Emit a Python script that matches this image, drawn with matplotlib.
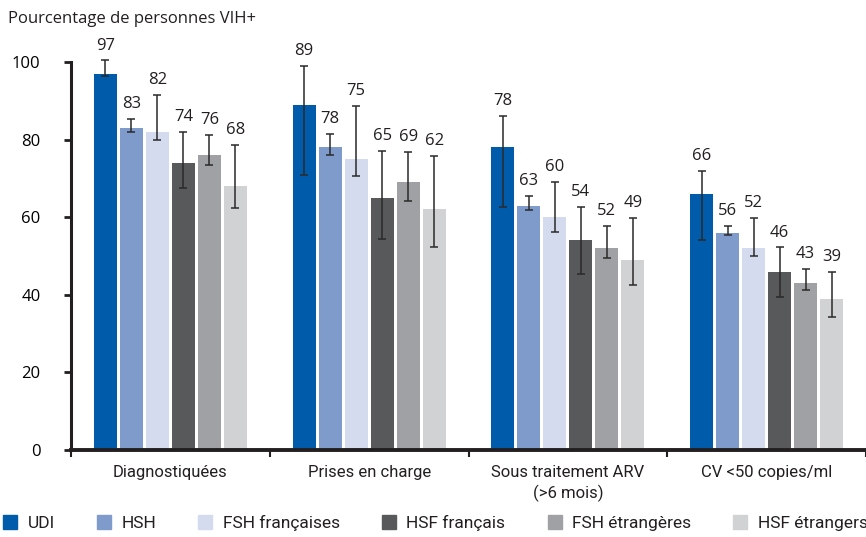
import matplotlib
matplotlib.use("Agg")
import matplotlib.pyplot as plt
from matplotlib.lines import Line2D
import numpy as np

# ── data ──────────────────────────────────────────────────────────────────────
categories = ["Diagnostiquées", "Prises en charge",
              "Sous traitement ARV\n(>6 mois)", "CV <50 copies/ml"]
groups = ["UDI", "HSH", "FSH françaises", "HSF français",
          "FSH étrangères", "HSF étrangers"]

values = [
    [97, 89, 78, 66],   # UDI
    [83, 78, 63, 56],   # HSH
    [82, 75, 60, 52],   # FSH françaises
    [74, 65, 54, 46],   # HSF français
    [76, 69, 52, 43],   # FSH étrangères
    [68, 62, 49, 39],   # HSF étrangers
]
ci_low = [
    [96.5, 71.0, 62.6, 54.1],
    [81.9, 76.0, 61.9, 55.4],
    [80.0, 70.5, 56.3, 50.1],
    [67.6, 54.5, 45.3, 39.4],
    [73.4, 64.2, 49.5, 41.2],
    [62.4, 52.3, 42.5, 34.4],
]
ci_high = [
    [100.4, 99.1, 86.2, 71.8],
    [85.4, 81.5, 65.5, 57.8],
    [91.5, 88.7, 69.2, 59.9],
    [81.9, 77.0, 62.6, 52.2],
    [81.2, 76.8, 57.8, 46.6],
    [78.7, 75.8, 59.9, 45.9],
]

colors = ["#005bab", "#7f9bcc", "#d4dbee", "#58595b", "#a0a1a4", "#d1d2d3"]

NARROW = ["Roboto", "DejaVu Sans"]
TEXT_COLOR = "#231f20"

plt.rcParams.update({
    "font.family": ["Open Sans", "DejaVu Sans"],
    "font.size": 11,
    "text.color": TEXT_COLOR,
})

fig = plt.figure(figsize=(8.66, 5.37), dpi=100)
ax = fig.add_axes([0.082, 0.162, 0.918, 0.7225])

x = np.arange(len(categories)) + 0.5
pitch = 0.131
width = 0.116

for i, (name, vals) in enumerate(zip(groups, values)):
    pos = x + (i - 2.5) * pitch
    vals = np.array(vals, dtype=float)
    lo = vals - np.array(ci_low[i])
    hi = np.array(ci_high[i]) - vals
    ax.bar(pos, vals, width, color=colors[i], zorder=2, clip_on=False)
    ax.errorbar(pos, vals, yerr=[lo, hi], fmt="none", ecolor="#2a2a2a",
                elinewidth=1.1, capsize=3, capthick=1.1, zorder=3, clip_on=False)
    for px, v, top in zip(pos, vals, ci_high[i]):
        ax.annotate(f"{v:.0f}", xy=(px, top), xytext=(0, 5),
                    textcoords="offset points", ha="center", va="bottom",
                    fontsize=12, annotation_clip=False)

ax.set_xlim(0, 4)
ax.set_ylim(0, 100)
ax.set_xticks([0, 1, 2, 3, 4])
ax.set_xticklabels([])
ax.set_yticks([0, 20, 40, 60, 80, 100])
ax.tick_params(axis="y", length=5, width=2, pad=17, labelsize=12,
               color="#231f20")
ax.tick_params(axis="x", length=5, width=1.5, color="#231f20")

for cx, lab in zip(x, categories):
    ax.text(cx, -3.8, lab, ha="center", va="top", fontsize=12,
            family=NARROW, linespacing=1.35)

for s in ["top", "right"]:
    ax.spines[s].set_visible(False)
ax.spines["left"].set_linewidth(2.2)
ax.spines["bottom"].set_linewidth(2.8)
ax.spines["left"].set_color("#231f20")
ax.spines["bottom"].set_color("#231f20")

fig.text(0.009, 0.965, "Pourcentage de personnes VIH+", ha="left", va="center",
         fontsize=12)

handles = [Line2D([], [], marker="s", linestyle="none", markersize=10,
                  markerfacecolor=c, markeredgecolor=c) for c in colors]
leg = fig.legend(handles, groups, loc="lower left", bbox_to_anchor=(-0.01, -0.012),
                 ncol=6, frameon=False, handlelength=0.8, handletextpad=0.6,
                 columnspacing=2.43, borderpad=0.2,
                 prop={"family": NARROW, "size": 12.5})

fig.savefig("out.png", dpi=100)
